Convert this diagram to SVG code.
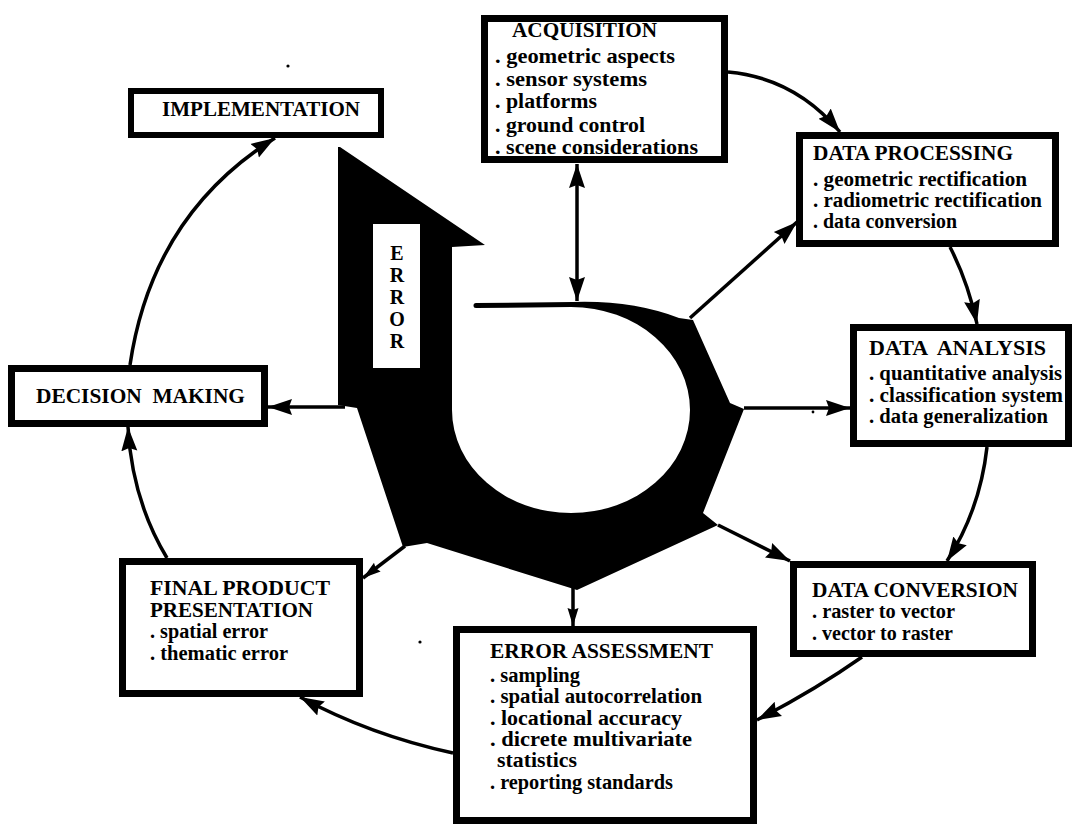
<svg xmlns="http://www.w3.org/2000/svg" width="1072" height="826" viewBox="0 0 1072 826">
<defs>
<marker id="ah" markerUnits="userSpaceOnUse" markerWidth="24" markerHeight="18" viewBox="0 0 24 18" refX="24" refY="9" orient="auto-start-reverse"><path d="M0,1 L24,9 L0,17 L3,9 Z" fill="#000"/></marker>
<marker id="as" markerUnits="userSpaceOnUse" markerWidth="18" markerHeight="12" viewBox="0 0 18 12" refX="18" refY="6" orient="auto-start-reverse"><path d="M0,0.5 L18,6 L0,11.5 L2,6 Z" fill="#000"/></marker>
</defs>
<style>
.box{fill:#fff;stroke:#000;stroke-width:7}
.t{font-family:"Liberation Serif","Times New Roman",serif;font-weight:bold;font-size:20px;fill:#000}
.pre{white-space:pre}
.c{fill:none;stroke:#000;stroke-width:3.5}
.big{marker-end:url(#ah)}
.sm{marker-end:url(#as)}
.err{font-family:"Liberation Serif","Times New Roman",serif;font-weight:bold;font-size:20px;text-anchor:middle;fill:#000}
</style>

<g id="error-arrow">
<path d="M340,147 L485,245 L452,247 L452,410 A119,103 0 1 0 571,307 L476,308 A2.5,2.5 0 0 1 476,303 L573,302 Q632,300 679,318 L693,320 L730,403 L744,409 L703,513 L718,525 L577,590 L427,543 L403,547 L357,408 L338,405 L338,147 Z" fill="#000"/>
<rect x="373" y="224" width="47" height="144" fill="#fff"/>
<text class="err"><tspan x="397" y="260">E</tspan><tspan x="397" y="282">R</tspan><tspan x="397" y="304">R</tspan><tspan x="397" y="326">O</tspan><tspan x="397" y="348">R</tspan></text>
</g>

<g id="connectors">
<path class="c" d="M577,164 L577,301" marker-start="url(#ah)" marker-end="url(#ah)"/>
<path class="c big" d="M728,72 Q795,78 840,132"/>
<path class="c big" d="M690,318 L797,222"/>
<path class="c big" d="M950,247 Q968,282 977,324"/>
<path class="c big" d="M744,408 L850,408"/>
<path class="c big" d="M987,447 Q980,510 947,561"/>
<path class="c big" d="M718,525 L790,561"/>
<path class="c big" d="M862,657 Q815,690 757,720"/>
<path class="c sm" d="M573,588 L573,626"/>
<path class="c big" d="M453,753 Q370,735 300,697"/>
<path class="c sm" d="M405,546 L363,578"/>
<path class="c big" d="M167,558 Q132,500 128,427"/>
<path class="c big" d="M345,407 L268,407"/>
<path class="c big" d="M130,365 Q152,215 275,138"/>
</g>

<g id="acquisition">
<rect class="box" x="484.5" y="18.5" width="240" height="141"/>
<text class="t" x="512" y="37" textLength="145" lengthAdjust="spacingAndGlyphs">ACQUISITION</text>
<text class="t" x="495" y="63" textLength="180" lengthAdjust="spacingAndGlyphs">. geometric aspects</text>
<text class="t" x="495" y="86" textLength="152" lengthAdjust="spacingAndGlyphs">. sensor systems</text>
<text class="t" x="495" y="108" textLength="102" lengthAdjust="spacingAndGlyphs">. platforms</text>
<text class="t" x="495" y="132" textLength="150" lengthAdjust="spacingAndGlyphs">. ground control</text>
<text class="t" x="495" y="154" textLength="203" lengthAdjust="spacingAndGlyphs">. scene considerations</text>
</g>

<g id="implementation">
<rect class="box" x="131" y="91" width="250" height="44" style="stroke-width:6"/>
<text class="t" x="162" y="116" textLength="198" lengthAdjust="spacingAndGlyphs">IMPLEMENTATION</text>
</g>

<g id="data-processing">
<rect class="box" x="799.5" y="135.5" width="256" height="108"/>
<text class="t" x="813" y="160" textLength="200" lengthAdjust="spacingAndGlyphs">DATA PROCESSING</text>
<text class="t" x="813" y="186" textLength="214" lengthAdjust="spacingAndGlyphs">. geometric rectification</text>
<text class="t" x="813" y="207" textLength="229" lengthAdjust="spacingAndGlyphs">. radiometric rectification</text>
<text class="t" x="813" y="228" textLength="144" lengthAdjust="spacingAndGlyphs">. data conversion</text>
</g>

<g id="data-analysis">
<rect class="box" x="853.5" y="327.5" width="215" height="116"/>
<text class="t pre" x="869" y="355" textLength="177" lengthAdjust="spacingAndGlyphs">DATA  ANALYSIS</text>
<text class="t" x="869" y="380" textLength="193" lengthAdjust="spacingAndGlyphs">. quantitative analysis</text>
<text class="t" x="869" y="402" textLength="194" lengthAdjust="spacingAndGlyphs">. classification system</text>
<text class="t" x="869" y="423" textLength="179" lengthAdjust="spacingAndGlyphs">. data generalization</text>
</g>

<g id="decision-making">
<rect class="box" x="11.5" y="368.5" width="253" height="55"/>
<text class="t pre" x="36" y="403" textLength="209" lengthAdjust="spacingAndGlyphs">DECISION  MAKING</text>
</g>

<g id="data-conversion">
<rect class="box" x="793.5" y="564.5" width="239" height="89"/>
<text class="t" x="812" y="597" textLength="206" lengthAdjust="spacingAndGlyphs">DATA CONVERSION</text>
<text class="t" x="812" y="618" textLength="143" lengthAdjust="spacingAndGlyphs">. raster to vector</text>
<text class="t" x="812" y="640" textLength="141" lengthAdjust="spacingAndGlyphs">. vector to raster</text>
</g>

<g id="final-product">
<rect class="box" x="122.5" y="561.5" width="237" height="132"/>
<text class="t" x="150" y="595" textLength="180" lengthAdjust="spacingAndGlyphs">FINAL PRODUCT</text>
<text class="t" x="150" y="617" textLength="163" lengthAdjust="spacingAndGlyphs">PRESENTATION</text>
<text class="t" x="150" y="638" textLength="118" lengthAdjust="spacingAndGlyphs">. spatial error</text>
<text class="t" x="150" y="660" textLength="138" lengthAdjust="spacingAndGlyphs">. thematic error</text>
</g>

<g id="error-assessment">
<rect class="box" x="456.5" y="629.5" width="297" height="191"/>
<text class="t" x="490" y="658" textLength="223" lengthAdjust="spacingAndGlyphs">ERROR ASSESSMENT</text>
<text class="t" x="490" y="682" textLength="90" lengthAdjust="spacingAndGlyphs">. sampling</text>
<text class="t" x="490" y="703" textLength="212" lengthAdjust="spacingAndGlyphs">. spatial autocorrelation</text>
<text class="t" x="490" y="725" textLength="192" lengthAdjust="spacingAndGlyphs">. locational accuracy</text>
<text class="t" x="490" y="746" textLength="202" lengthAdjust="spacingAndGlyphs">. dicrete multivariate</text>
<text class="t" x="497" y="767" textLength="80" lengthAdjust="spacingAndGlyphs">statistics</text>
<text class="t" x="490" y="789" textLength="183" lengthAdjust="spacingAndGlyphs">. reporting standards</text>
</g>

<g id="specks" fill="#000">
<circle cx="288" cy="66" r="1.6"/>
<circle cx="813" cy="412" r="1.4"/>
<circle cx="420" cy="642" r="1.6"/>
</g>
</svg>
